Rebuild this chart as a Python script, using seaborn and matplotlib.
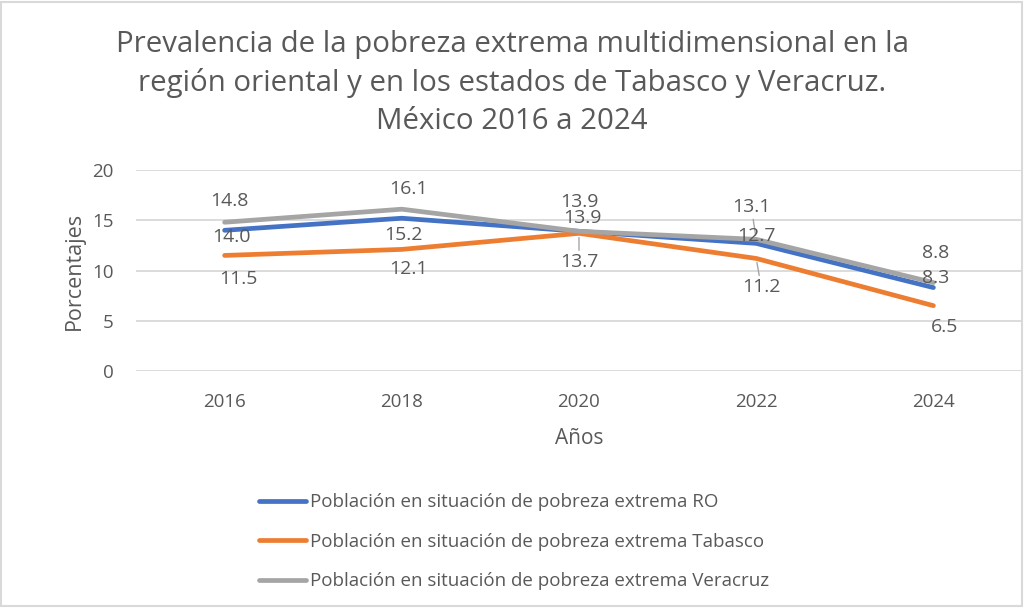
import matplotlib
matplotlib.use("Agg")
import matplotlib.pyplot as plt
import seaborn as sns
import pandas as pd
from matplotlib.patches import Rectangle

# ---- data ----
years = ["2016", "2018", "2020", "2022", "2024"]
series_names = [
    "Población en situación de pobreza extrema RO",
    "Población en situación de pobreza extrema Tabasco",
    "Población en situación de pobreza extrema Veracruz",
]
ro = [14.0, 15.2, 13.9, 12.7, 8.3]
tabasco = [11.5, 12.1, 13.7, 11.2, 6.5]
veracruz = [14.8, 16.1, 13.9, 13.1, 8.8]
yticks = [0, 5, 10, 15, 20]

title = ("Prevalencia de la pobreza extrema multidimensional en la\n"
         "región oriental y en los estados de Tabasco y Veracruz.\n"
         "México 2016 a 2024")
xlabel = "Años"
ylabel = "Porcentajes"

# ---- styles ----
colors = ["#4472C4", "#ED7D31", "#A5A5A5"]
text_col = "#595959"
# label offsets in pixels (dx, dy) per series per point
label_offsets = [
    [(7, -7), (2, -17), (3, 13), (0, 7), (2, 10)],        # RO
    [(14, -24), (7, -20), (0, -29), (5, -29), (11, -21)],  # Tabasco
    [(5, 21), (7, 20), (0, 29), (-5, 32), (2, 30)],        # Veracruz
]
leaders = {(1, 2), (1, 3), (2, 3)}

sns.set_theme(style="white")
plt.rcParams["font.family"] = ["Open Sans", "DejaVu Sans"]

df = pd.DataFrame({
    "Año": years * 3,
    "Valor": ro + tabasco + veracruz,
    "Serie": [s for s in series_names for _ in years],
})

fig = plt.figure(figsize=(10.24, 6.14), dpi=100)
ax = fig.add_axes([136 / 1024, 1 - 371 / 614, (1022 - 136) / 1024, (371 - 170) / 614])

sns.lineplot(data=df, x="Año", y="Valor", hue="Serie", hue_order=series_names,
             palette=colors, linewidth=3.4, ax=ax, sort=False, legend=True)
for ln in ax.get_lines():
    ln.set_solid_capstyle("round")
    ln.set_solid_joinstyle("round")

ax.set_xlim(-0.5, len(years) - 0.5)
ax.set_ylim(0, 20)
ax.set_yticks(yticks)
ax.grid(axis="y", color="#D9D9D9", linewidth=1.3)
ax.set_axisbelow(True)
for sp in ax.spines.values():
    sp.set_visible(False)
ax.tick_params(axis="both", length=0, labelsize=13.5, labelcolor=text_col)
ax.tick_params(axis="y", pad=16)
ax.tick_params(axis="x", pad=16)
ax.set_xlabel(xlabel, fontsize=15, color=text_col, labelpad=12)
ax.set_ylabel(ylabel, fontsize=15.5, color=text_col, labelpad=5)

# data labels
all_vals = [ro, tabasco, veracruz]
for si, vals in enumerate(all_vals):
    for i, v in enumerate(vals):
        dx, dy = label_offsets[si][i]
        ax.annotate(f"{v:.1f}", (i, v), xytext=(dx, dy), textcoords="offset pixels",
                    ha="center", va="center", fontsize=14, color=text_col, zorder=5)
        if (si, i) in leaders:
            sign = 1 if dy > 0 else -1
            ax.annotate("", (i, v), xytext=(dx * 0.6, dy - sign * 12),
                        textcoords="offset pixels",
                        arrowprops=dict(arrowstyle="-", color="#A6A6A6", lw=1,
                                        shrinkA=0, shrinkB=3))

# legend
handles, labels = ax.get_legend_handles_labels()
ax.get_legend().remove()
leg = fig.legend(handles, labels, loc="upper left",
                 bbox_to_anchor=(250 / 1024, 1 - 484 / 614),
                 frameon=False, fontsize=13.5, handlelength=2.5, handletextpad=0.2,
                 labelspacing=1.15, borderpad=0)
for t in leg.get_texts():
    t.set_color(text_col)
for h in leg.get_lines():
    h.set_linewidth(3.4)

fig.text(512 / 1024, 1 - 83 / 614, title, ha="center", va="center",
         fontsize=21.2, color=text_col, linespacing=1.42)

fig.patches.append(Rectangle((1 / 1024, 1 - 606 / 614), 1021 / 1024, 604 / 614,
                             transform=fig.transFigure, fill=False,
                             edgecolor="#D9D9D9", linewidth=1.5))

fig.savefig("out.png", dpi=100)
